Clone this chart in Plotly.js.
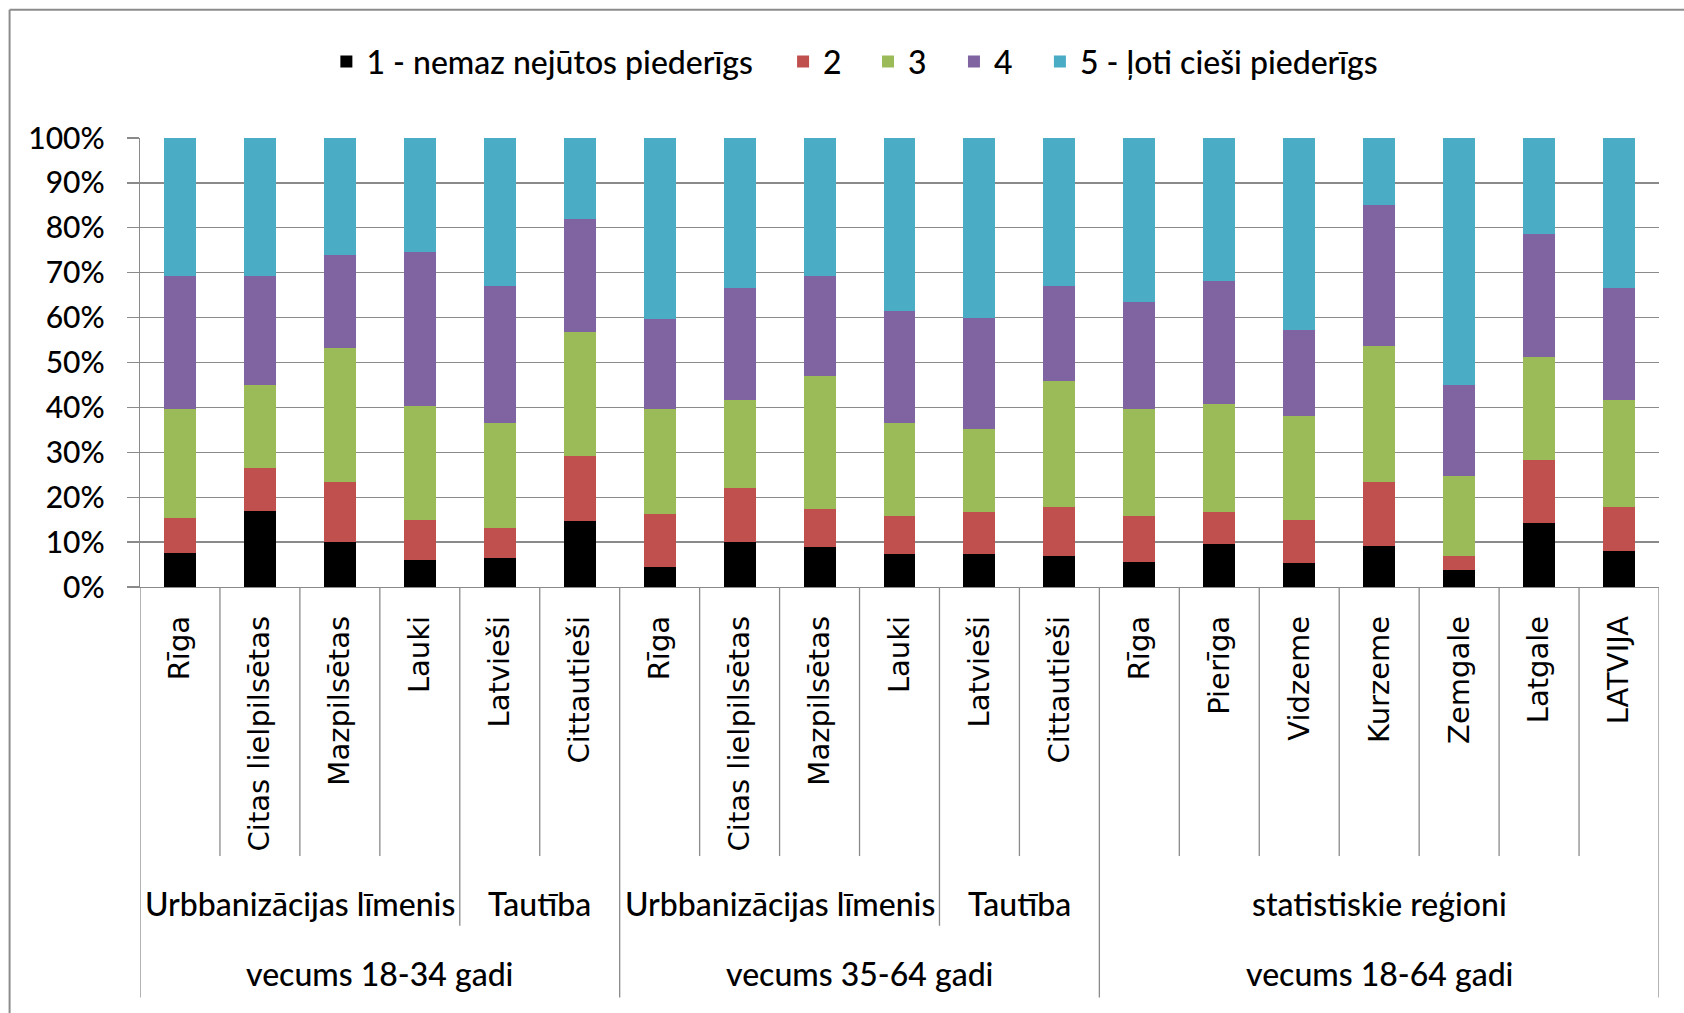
<!DOCTYPE html>
<html>
<head>
<meta charset="utf-8">
<script src="https://cdn.plot.ly/plotly-3.0.1.min.js"></script>
<style>
  html, body { margin: 0; padding: 0; background: #ffffff; }
  #chart { width: 1684px; height: 1013px; }
</style>
</head>
<body>
<div id="chart"></div>
<script>
// ---------------- DATA ----------------
const categories = ['Rīga', 'Citas lielpilsētas', 'Mazpilsētas', 'Lauki', 'Latvieši', 'Cittautieši',
                    'Rīga', 'Citas lielpilsētas', 'Mazpilsētas', 'Lauki', 'Latvieši', 'Cittautieši',
                    'Rīga', 'Pierīga', 'Vidzeme', 'Kurzeme', 'Zemgale', 'Latgale', 'LATVIJA'];
const groups = ['Urbbanizācijas līmenis', 'Urbbanizācijas līmenis', 'Urbbanizācijas līmenis', 'Urbbanizācijas līmenis', 'Tautība', 'Tautība',
                'Urbbanizācijas līmenis', 'Urbbanizācijas līmenis', 'Urbbanizācijas līmenis', 'Urbbanizācijas līmenis', 'Tautība', 'Tautība',
                'statistiskie reģioni', 'statistiskie reģioni', 'statistiskie reģioni', 'statistiskie reģioni', 'statistiskie reģioni', 'statistiskie reģioni', 'statistiskie reģioni'];
const ages = ['vecums 18-34 gadi', 'vecums 18-34 gadi', 'vecums 18-34 gadi', 'vecums 18-34 gadi', 'vecums 18-34 gadi', 'vecums 18-34 gadi',
              'vecums 35-64 gadi', 'vecums 35-64 gadi', 'vecums 35-64 gadi', 'vecums 35-64 gadi', 'vecums 35-64 gadi', 'vecums 35-64 gadi',
              'vecums 18-64 gadi', 'vecums 18-64 gadi', 'vecums 18-64 gadi', 'vecums 18-64 gadi', 'vecums 18-64 gadi', 'vecums 18-64 gadi', 'vecums 18-64 gadi'];

const seriesNames = ['1 - nemaz nejūtos piederīgs', '2', '3', '4', '5 - ļoti cieši piederīgs'];
const s1 = [7.6, 17.0, 10.0, 6.0, 6.4, 14.7, 4.4, 10.0, 8.8, 7.3, 7.3, 6.8, 5.6, 9.6, 5.3, 9.2, 3.7, 14.2, 8.0];
const s2 = [7.8, 9.4, 13.3, 9.0, 6.7, 14.4, 11.8, 12.1, 8.6, 8.6, 9.4, 11.0, 10.3, 7.0, 9.7, 14.1, 3.1, 14.1, 9.8];
const s3 = [24.2, 18.7, 30.0, 25.4, 23.4, 27.7, 23.4, 19.5, 29.7, 20.6, 18.6, 28.1, 23.7, 24.2, 23.1, 30.3, 17.9, 23.0, 23.8];
const s4 = [29.7, 24.2, 20.7, 34.3, 30.5, 25.1, 20.0, 25.0, 22.2, 25.0, 24.6, 21.1, 23.8, 27.3, 19.1, 31.4, 20.4, 27.4, 24.9];
const s5 = [30.7, 30.7, 26.0, 25.3, 33.0, 18.1, 40.4, 33.4, 30.7, 38.5, 40.1, 33.0, 36.6, 31.9, 42.8, 15.0, 54.9, 21.3, 33.5];
const yTickValues = [0, 10, 20, 30, 40, 50, 60, 70, 80, 90, 100];
const yTickLabels = yTickValues.map(v => v + '%');

// ---------------- STYLE ----------------
const colors = ['#000000', '#C0504D', '#9BBB59', '#8064A2', '#4BACC6'];
const W = 1684, H = 1013;
const plotL = 139.5, plotR = 1659.5, plotT = 137.5, plotB = 587.5;
const plotW = plotR - plotL, plotH = plotB - plotT;
const px = v => (v - plotL) / plotW;     // pixel x -> paper x
const py = v => (plotB - v) / plotH;     // pixel y -> paper y
const gray = '#8a8a8a';
const latin = 'Lato, "Open Sans", sans-serif';
const textWeight = 500;
const legendSymbolCenters = [346, 803, 888, 974, 1060];  // pixel layout of legend entries

// unique keys so that repeated names stay separate categories
const keys = categories.map((c, i) => ages[i] + ' / ' + groups[i] + ' / ' + c);
const legendIds = seriesNames.map((n, k) => k === 0 ? 'legend' : 'legend' + (k + 1));

const allSeries = [s1, s2, s3, s4, s5];
const traces = allSeries.map((vals, k) => ({
  type: 'bar',
  name: seriesNames[k],
  legend: legendIds[k],
  x: keys,
  y: vals,
  marker: { color: colors[k], line: { width: 0 } },
  hovertemplate: '%{y}%<extra>' + seriesNames[k] + '</extra>'
}));

// separators below the category axis
const shapes = [];
for (let i = 0; i <= categories.length; i++) {
  let bottom;
  if (i === 0 || i === categories.length || ages[i] !== ages[i - 1]) bottom = 999;
  else if (groups[i] !== groups[i - 1]) bottom = 927;
  else bottom = 857;
  shapes.push({
    type: 'line', xref: 'x', yref: 'paper',
    x0: i - 0.5, x1: i - 0.5, y0: 0, y1: py(bottom),
    line: { color: gray, width: 1.3 }
  });
}
// outer chart-area border (left and top edges visible)
shapes.push({ type: 'line', xref: 'paper', yref: 'paper', x0: px(9), x1: px(9), y0: py(9), y1: py(H + 5), line: { color: '#8c8c8c', width: 2 } });
shapes.push({ type: 'line', xref: 'paper', yref: 'paper', x0: px(9), x1: px(W + 5), y0: py(9), y1: py(9), line: { color: '#8c8c8c', width: 2 } });

// group labels built from the arrays
function spans(arr, extra) {
  const out = [];
  let start = 0;
  for (let i = 1; i <= arr.length; i++) {
    if (i === arr.length || arr[i] !== arr[start] || (extra && extra[i] !== extra[start])) {
      out.push({ text: arr[start], mid: (start + i - 1) / 2 });
      start = i;
    }
  }
  return out;
}
const annotations = [];
spans(groups, ages).forEach(s => annotations.push({
  xref: 'x', yref: 'paper', x: s.mid, y: py(905), text: s.text, showarrow: false,
  xanchor: 'center', yanchor: 'middle', font: { family: latin, size: 32, color: '#000', weight: textWeight }
}));
spans(ages).forEach(s => annotations.push({
  xref: 'x', yref: 'paper', x: s.mid, y: py(975), text: s.text, showarrow: false,
  xanchor: 'center', yanchor: 'middle', font: { family: latin, size: 32, color: '#000', weight: textWeight }
}));

const layout = {
  width: W, height: H,
  margin: { l: plotL, r: W - plotR, t: plotT, b: H - plotB, pad: 0 },
  paper_bgcolor: '#ffffff', plot_bgcolor: '#ffffff',
  barmode: 'stack',
  bargap: 0.6,
  showlegend: true,
  xaxis: {
    type: 'category',
    tickvals: keys, ticktext: categories,
    tickangle: -90,
    ticks: '', showgrid: false, zeroline: false,
    showline: true, linecolor: gray, linewidth: 1.3,
    ticklabelstandoff: 16,
    tickfont: { family: '"DejaVu Sans", Verdana, sans-serif', size: 29, color: '#000' },
    range: [-0.5, categories.length - 0.5],
    fixedrange: true
  },
  yaxis: {
    range: [0, 100],
    tickmode: 'array',
    tickvals: yTickValues,
    ticktext: yTickLabels,
    showgrid: true, gridcolor: gray, gridwidth: 1.3,
    zeroline: false,
    showline: true, linecolor: gray, linewidth: 1.3,
    ticks: 'outside', ticklen: 12, tickcolor: gray, tickwidth: 1.3,
    ticklabelstandoff: 16,
    tickfont: { family: latin, size: 30, color: '#000', weight: textWeight },
    fixedrange: true
  },
  shapes: shapes,
  annotations: annotations
};
legendIds.forEach((id, k) => {
  layout[id] = {
    orientation: 'h', x: px(legendSymbolCenters[k] - 20), xanchor: 'left', y: py(61), yanchor: 'middle',
    font: { family: latin, size: 32, color: '#000', weight: textWeight },
    itemwidth: 30, bgcolor: 'rgba(0,0,0,0)', borderwidth: 0
  };
});

Plotly.newPlot('chart', traces, layout, { displayModeBar: false, staticPlot: true });
</script>
</body>
</html>
